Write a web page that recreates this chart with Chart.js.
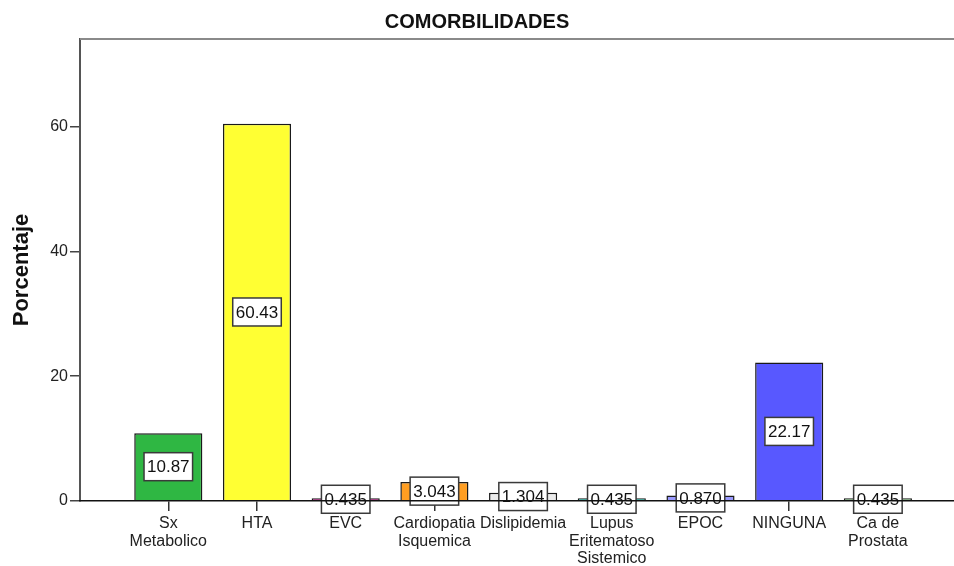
<!DOCTYPE html>
<html>
<head>
<meta charset="utf-8">
<script src="https://cdn.jsdelivr.net/npm/chart.js@4/dist/chart.umd.min.js"></script>
<style>
  html, body { margin: 0; padding: 0; background: #ffffff; }
  #wrap { width: 954px; height: 566px; position: relative; }
</style>
</head>
<body>
<div id="wrap"><canvas id="c" width="954" height="566"></canvas></div>
<script>
const categories = [
  ['Sx', 'Metabolico'],
  'HTA',
  'EVC',
  ['Cardiopatia', 'Isquemica'],
  'Dislipidemia',
  ['Lupus', 'Eritematoso', 'Sistemico'],
  'EPOC',
  'NINGUNA',
  ['Ca de', 'Prostata']
];
const porcentajes = [10.87, 60.43, 0.435, 3.043, 1.304, 0.435, 0.870, 22.17, 0.435];
const valueLabels = ['10.87', '60.43', '0.435', '3.043', '1.304', '0.435', '0.870', '22.17', '0.435'];
const yTicks = [0, 20, 40, 60];
const barColors = ['#2fb743', '#ffff33', '#99196f', '#ff9e22', '#ebebeb', '#1f9a8c', '#9a9aff', '#5858ff', '#6b9a6b'];

const FONT = "'Liberation Sans', Arial, sans-serif";

const frameTop = {
  id: 'frameTop',
  beforeDatasetsDraw(chart) {
    const a = chart.chartArea, ctx = chart.ctx;
    ctx.save();
    ctx.strokeStyle = '#8a8a8a';
    ctx.lineWidth = 2;
    ctx.beginPath();
    ctx.moveTo(a.left, a.top);
    ctx.lineTo(a.right, a.top);
    ctx.stroke();
    ctx.restore();
  }
};

const boxLabels = {
  id: 'boxLabels',
  afterDatasetsDraw(chart) {
    const ctx = chart.ctx;
    const meta = chart.getDatasetMeta(0);
    ctx.save();
    ctx.font = '17px ' + FONT;
    ctx.textAlign = 'center';
    ctx.textBaseline = 'middle';
    meta.data.forEach((bar, i) => {
      const p = bar.getCenterPoint();
      const txt = valueLabels[i];
      const w = ctx.measureText(txt).width + 6;
      const h = 28;
      ctx.fillStyle = '#ffffff';
      ctx.fillRect(p.x - w / 2, p.y - h / 2, w, h);
      ctx.strokeStyle = '#3a3a3a';
      ctx.lineWidth = 1.5;
      ctx.strokeRect(p.x - w / 2, p.y - h / 2, w, h);
      ctx.fillStyle = '#111111';
      ctx.fillText(txt, p.x, p.y + 1);
    });
    ctx.restore();
  }
};

new Chart(document.getElementById('c'), {
  type: 'bar',
  data: {
    datasets: [{
      data: porcentajes.map((v, i) => ({ x: i, y: v })),
      backgroundColor: barColors,
      borderColor: '#1a1a1a',
      borderWidth: 1.5,
      borderSkipped: 'bottom',
      barPercentage: 0.96,
      categoryPercentage: 0.8
    }]
  },
  options: {
    responsive: false,
    animation: false,
    layout: { padding: 0 },
    plugins: {
      legend: { display: false },
      tooltip: { enabled: false },
      title: {
        display: true,
        text: 'COMORBILIDADES',
        color: '#111111',
        font: { family: FONT, size: 20, weight: 'bold', lineHeight: 1.2 },
        padding: { top: 10, bottom: 5 }
      }
    },
    scales: {
      x: {
        type: 'linear',
        offset: false,
        min: -0.9955,
        max: 8.858,
        afterBuildTicks: s => { s.ticks = categories.map((c, i) => ({ value: i })); },
        afterFit: s => { s.height = 65; },
        grid: { display: true, offset: false, drawOnChartArea: false, drawTicks: true, tickLength: 10, color: '#333333', lineWidth: 1.5 },
        border: { display: true, color: '#111111', width: 1.5, z: 1 },
        ticks: {
          autoSkip: false,
          maxRotation: 0,
          padding: 4,
          color: '#222222',
          font: { family: FONT, size: 16, lineHeight: 1.1 },
          callback: (v) => categories[v]
        }
      },
      y: {
        min: 0,
        max: 74,
        afterBuildTicks: s => { s.ticks = yTicks.map(v => ({ value: v })); },
        afterFit: s => { s.width = 80; },
        grid: { display: true, drawOnChartArea: false, drawTicks: true, tickLength: 10, color: '#444444', lineWidth: 1.5 },
        border: { display: true, color: '#555555', width: 2 },
        ticks: {
          padding: 2,
          color: '#222222',
          font: { family: FONT, size: 16 }
        },
        title: {
          display: true,
          text: 'Porcentaje',
          color: '#111111',
          font: { family: FONT, size: 22, weight: 'bold', lineHeight: 1.2 },
          padding: { top: 9, bottom: 0 }
        }
      }
    }
  },
  plugins: [frameTop, boxLabels]
});
</script>
</body>
</html>
